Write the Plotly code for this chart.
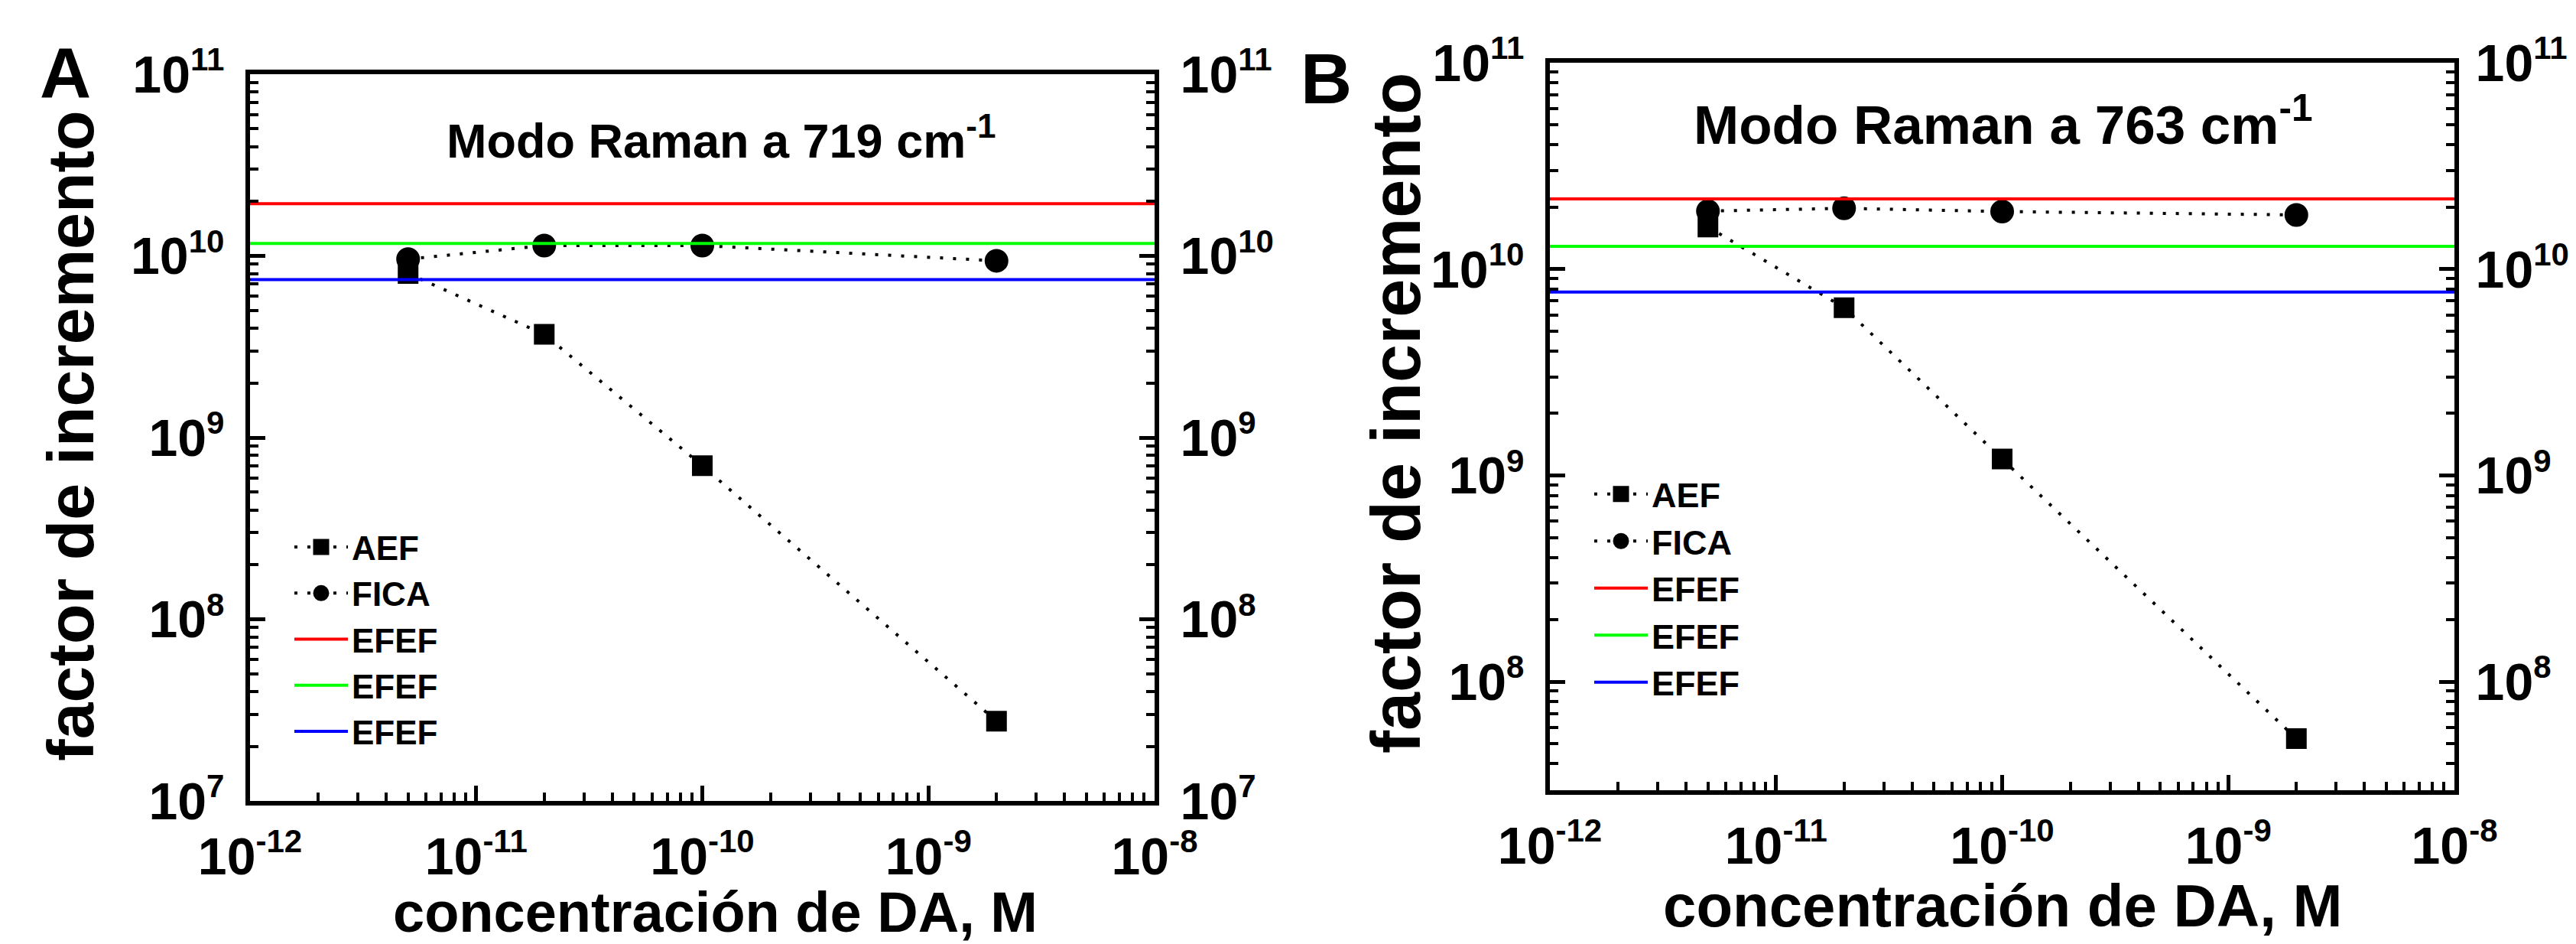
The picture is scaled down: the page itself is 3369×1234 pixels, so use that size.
import plotly.graph_objects as go

# ---------------- data ----------------
conc = [5e-12, 2e-11, 1e-10, 2e-9]

a_aef = [8.0e9, 3.7e9, 7.0e8, 2.75e7]
a_fica = [9.6e9, 1.14e10, 1.14e10, 9.4e9]
a_efef = [1.94e10, 1.17e10, 7.4e9]

b_aef = [1.6e10, 6.5e9, 1.2e9, 5.3e7]
b_fica = [1.91e10, 1.97e10, 1.90e10, 1.83e10]
b_efef = [2.19e10, 1.29e10, 7.74e9]

efef_colors = ["#ff0000", "#00ff00", "#0000ff"]
x_span = [1e-12, 1e-8]

x_ticks = [1e-12, 1e-11, 1e-10, 1e-9, 1e-8]
x_exp = ["-12", "-11", "-10", "-9", "-8"]
y_ticks = [1e7, 1e8, 1e9, 1e10, 1e11]
y_exp = ["7", "8", "9", "10", "11"]

# ---------------- geometry helpers ----------------
W, H = 3369, 1234
def px(x):
    return x / W
def py(y):
    return 1 - y / H

FONT = "Liberation Sans, Arial, sans-serif"
SUP = 42

def pow_label(e):
    return "10<sup><span style='font-size:%dpx'>%s</span></sup>" % (SUP, e)

x_ticktext = [pow_label(e) for e in x_exp]
y_ticktext = [pow_label(e) for e in y_exp]

fig = go.Figure()

dot = "4px,13px"

def add_panel(xa, ya, ya2, legend, aef, fica, efef):
    fig.add_trace(go.Scatter(
        x=conc, y=aef, name="AEF", mode="lines+markers",
        line=dict(color="black", width=4, dash=dot),
        marker=dict(symbol="square", size=22, color="black",
                    line=dict(color="black", width=5)),
        xaxis=xa, yaxis=ya, legend=legend))
    fig.add_trace(go.Scatter(
        x=conc, y=fica, name="FICA", mode="lines+markers",
        line=dict(color="black", width=4, dash=dot),
        marker=dict(symbol="circle", size=26, color="black",
                    line=dict(color="black", width=5)),
        xaxis=xa, yaxis=ya, legend=legend))
    for v, c in zip(efef, efef_colors):
        fig.add_trace(go.Scatter(
            x=x_span, y=[v, v], name="EFEF", mode="lines",
            line=dict(color=c, width=4),
            xaxis=xa, yaxis=ya2, legend=legend))

add_panel("x", "y", "y2", "legend", a_aef, a_fica, a_efef)
add_panel("x2", "y3", "y4", "legend2", b_aef, b_fica, b_efef)

tickfont = dict(family=FONT, size=68, color="black", weight="bold")
minor_x = [k * 10.0 ** d for d in range(-12, -8) for k in range(2, 10)]
minor_y = [k * 10.0 ** d for d in range(7, 11) for k in range(2, 10)]

def xaxis_cfg(domain, anchor):
    return dict(
        domain=domain, type="log", range=[-12, -8], anchor=anchor,
        automargin=False,
        showline=True, linecolor="black", linewidth=6, mirror=True,
        ticks="inside", ticklen=20, tickwidth=5, tickcolor="black",
        tickmode="array", tickvals=x_ticks, ticktext=x_ticktext,
        tickfont=tickfont, ticklabelstandoff=8,
        minor=dict(ticks="inside", ticklen=11, tickwidth=4, tickcolor="black",
                   tickmode="array", tickvals=minor_x, showgrid=False),
        showgrid=False, zeroline=False)

def yaxis_cfg(domain, yr, anchor, side="left", overlaying=None, standoff=14):
    d = dict(
        domain=domain, type="log", range=yr, anchor=anchor, side=side,
        automargin=False,
        showline=True, linecolor="black", linewidth=6, mirror=False,
        ticks="inside", ticklen=20, tickwidth=5, tickcolor="black",
        tickmode="array", tickvals=y_ticks, ticktext=y_ticktext,
        tickfont=tickfont, ticklabelstandoff=standoff,
        minor=dict(ticks="inside", ticklen=11, tickwidth=4, tickcolor="black",
                   tickmode="array", tickvals=minor_y, showgrid=False),
        showgrid=False, zeroline=False)
    if overlaying:
        d["overlaying"] = overlaying
    return d

dom_ax = [px(327), px(1510)]
dom_ay = [py(1047), py(97)]
dom_bx = [px(2027), px(3210)]
dom_by = [py(1033), py(82)]
yr_a = [7, 11]
yr_b = [7.474, 11]

fig.update_layout(
    width=W, height=H,
    margin=dict(l=0, r=0, t=0, b=0, pad=0, autoexpand=False),
    paper_bgcolor="white", plot_bgcolor="white",
    xaxis=xaxis_cfg(dom_ax, "y"),
    yaxis=yaxis_cfg(dom_ay, yr_a, "x"),
    yaxis2=yaxis_cfg(dom_ay, yr_a, "x", side="right", overlaying="y", standoff=14),
    xaxis2=xaxis_cfg(dom_bx, "y3"),
    yaxis3=yaxis_cfg(dom_by, yr_b, "x2"),
    yaxis4=yaxis_cfg(dom_by, yr_b, "x2", side="right", overlaying="y3", standoff=8),
    legend=dict(x=px(380), y=py(680), xanchor="left", yanchor="top",
                bgcolor="rgba(0,0,0,0)", itemwidth=70, tracegroupgap=0,
                font=dict(family=FONT, size=44, color="black", weight="bold")),
    legend2=dict(x=px(2080), y=py(610), xanchor="left", yanchor="top",
                 bgcolor="rgba(0,0,0,0)", itemwidth=70, tracegroupgap=0,
                 font=dict(family=FONT, size=45, color="black", weight="bold")),
    showlegend=True,
)

def ann(text, x, y, size, textangle=0, xanchor="center", yanchor="middle"):
    fig.add_annotation(text=text, x=px(x), y=py(y), xref="paper", yref="paper",
                       showarrow=False, textangle=textangle,
                       xanchor=xanchor, yanchor=yanchor,
                       font=dict(family=FONT, size=size, color="black", weight="bold"))

# panel titles
ann("Modo Raman a 719 cm<sup>-1</sup>", 943, 180, 63)
ann("Modo Raman a 763 cm<sup>-1</sup>", 2620, 158, 71)
# panel letters
ann("A", 85, 95, 93)
ann("B", 1735, 103, 93)
# axis titles
ann("concentración de DA, M", 935, 1192, 74)
ann("concentración de DA, M", 2619, 1184, 78)
ann("factor de incremento", 92, 570, 86, textangle=-90)
ann("factor de incremento", 1826, 540, 90, textangle=-90)

fig.write_html("out.html")
